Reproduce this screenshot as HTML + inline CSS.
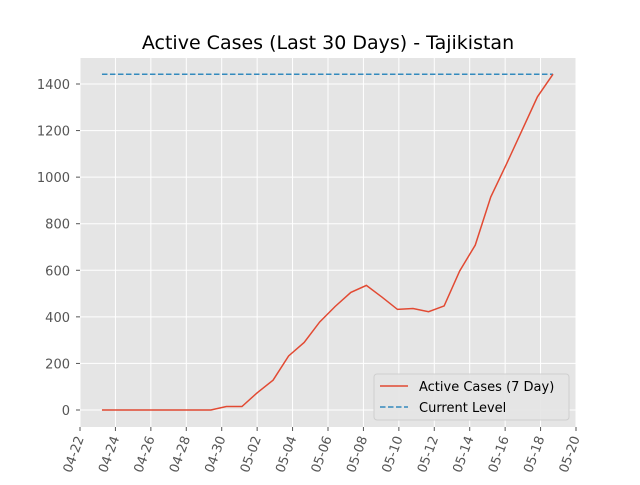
<!DOCTYPE html>
<html><head><meta charset="utf-8"><style>
body{margin:0;background:#fff;font-family:"Liberation Sans","DejaVu Sans",sans-serif}
</style></head><body>
<svg id="chart" width="640" height="480" xmlns="http://www.w3.org/2000/svg" font-family="DejaVu Sans, Liberation Sans, sans-serif">
<rect width="640" height="480" fill="#fff"/>
<text x="328" y="49" font-size="19" text-anchor="middle" fill="#000">Active Cases (Last 30 Days) - Tajikistan</text>
<rect x="80" y="58" width="496" height="369" fill="#e5e5e5"/>
<g id="grid"></g><g id="ticks"></g><g id="series"></g>
<g>
<rect x="374" y="374" width="195" height="46" rx="3" fill="#e5e5e5" stroke="#ccc" opacity="0.9"/>
<line x1="380" y1="386" x2="408" y2="386" stroke="#e24a33" stroke-width="1.5"/>
<text x="419" y="391" font-size="13" fill="#000">Active Cases (7 Day)</text>
<line x1="380" y1="407" x2="408" y2="407" stroke="#348abd" stroke-width="1.5" stroke-dasharray="5.5,2.5"/>
<text x="419" y="412" font-size="13" fill="#000">Current Level</text>
</g>
</svg>
<script>
const values=[0,0,0,0,0,0,0,0,15,15,75,128,232,290,378,445,505,535,485,432,436,422,447,597,708,915,1055,1200,1345,1442];
const currentLevel=1442;
const yTicks=[0,200,400,600,800,1000,1200,1400];
const xTickLabels=["04-22","04-24","04-26","04-28","04-30","05-02","05-04","05-06","05-08","05-10","05-12","05-14","05-16","05-18","05-20"];
const startDay=1.24, stepDay=0.878;
const NS="http://www.w3.org/2000/svg";
const xs=d=>80+d*17.714;
const ys=v=>410-v*(326/1400);
function mk(t,a,p){const e=document.createElementNS(NS,t);for(const k in a)e.setAttribute(k,a[k]);p.appendChild(e);return e;}
const grid=document.getElementById('grid'),ticks=document.getElementById('ticks'),series=document.getElementById('series');
yTicks.forEach(v=>{
const l=mk('line',{x1:80,x2:576,y1:ys(v),y2:ys(v),stroke:'#fff','stroke-width':1},grid);


const t=mk('text',{x:70,y:ys(v)+5,'font-size':13,'text-anchor':'end',fill:'#555'},ticks);
t.textContent=v;


mk('line',{x1:76,x2:80,y1:ys(v),y2:ys(v),stroke:'#555'},ticks);
});
xTickLabels.forEach((s,i)=>{
const x=xs(i*2);
const l=mk('line',{x1:x,x2:x,y1:58,y2:427,stroke:'#fff','stroke-width':1},grid);


mk('line',{x1:x,x2:x,y1:427,y2:431,stroke:'#555'},ticks);
const t=mk('text',{x:x+4,y:438,'font-size':13,'text-anchor':'end',fill:'#555',transform:`rotate(-70 ${x+4} 438)`},ticks);
t.textContent=s;


});
const px=i=>xs(startDay+i*stepDay);
const cl=mk('line',{x1:px(0),x2:px(values.length-1),y1:ys(currentLevel),y2:ys(currentLevel),stroke:'#348abd','stroke-width':1.5,'stroke-dasharray':'5.5,2.5'},series);


const pl=mk('polyline',{points:values.map((v,i)=>px(i)+','+ys(v)).join(' '),fill:'none',stroke:'#e24a33','stroke-width':1.5},series);


</script>
</body></html>
